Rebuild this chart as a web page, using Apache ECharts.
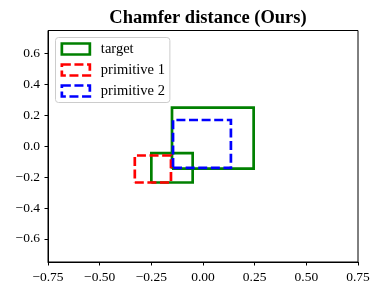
<!DOCTYPE html>
<html><head><meta charset="utf-8">
<script src="https://cdn.jsdelivr.net/npm/echarts@6/dist/echarts.min.js"></script>
<style>html,body{margin:0;padding:0;background:#fff}#c{width:380px;height:295px}</style>
</head><body><div id="c"></div>
<script>
// Boxes as [x0, x1, y0, y1]
const targetBoxes = [[-0.15, 0.245, -0.145, 0.25], [-0.25, -0.05, -0.235, -0.045]];
const primitive1 = [-0.33, -0.155, -0.235, -0.06];
const primitive2 = [-0.145, 0.135, -0.14, 0.17];
const xTicks = [-0.75, -0.5, -0.25, 0, 0.25, 0.5, 0.75];
const yTicks = [-0.6, -0.4, -0.2, 0, 0.2, 0.4, 0.6];

function rect(b){ return [[b[0],b[2]],[b[1],b[2]],[b[1],b[3]],[b[0],b[3]],[b[0],b[2]]]; }
const fmt = (v, d) => { const s = Math.abs(v).toFixed(d); return (v < -1e-9 ? '\u2212' : '') + s; };
const font = 'Liberation Serif';
const dash = [9, 3.6];
const lw = 2.7;
function boxSeries(name, box, color, dashed){
  return { name, type: 'line', data: rect(box), symbol: 'none', silent: true, animation: false,
    lineStyle: { color, width: lw, type: dashed ? dash : 'solid', join: 'miter', cap: 'butt' },
    itemStyle: { color } };
}
const series = [
  boxSeries('target', targetBoxes[0], '#008000', false),
  boxSeries('target', targetBoxes[1], '#008000', false),
  boxSeries('primitive 1', primitive1, '#ff0000', true),
  boxSeries('primitive 2', primitive2, '#0000ff', true)
];
const chart = echarts.init(document.getElementById('c'), null, { renderer: 'canvas' });
chart.setOption({
  animation: false,
  title: { text: 'Chamfer distance (Ours)', left: 203, textAlign: 'center', top: 4,
    textStyle: { fontFamily: font, fontWeight: 'bold', fontSize: 18.5, color: '#000' } },
  grid: { left: 48, right: 22, top: 30.5, bottom: 33, show: true, borderColor: '#000', borderWidth: 1 },
  legend: {
    left: 55.5, top: 37.5, orient: 'vertical', itemWidth: 28, itemHeight: 11, itemGap: 6,
    padding: [4, 5, 4, 5], borderColor: '#ccc', borderWidth: 1, borderRadius: 3,
    backgroundColor: 'rgba(255,255,255,0.8)', icon: 'rect',
    textStyle: { fontFamily: font, fontSize: 14.5, lineHeight: 15, color: '#000', padding: [0, 0, 0, 6] },
    data: [
      { name: 'target', itemStyle: { color: 'rgba(0,0,0,0)', borderColor: '#008000', borderWidth: lw, borderType: 'solid' } },
      { name: 'primitive 1', itemStyle: { color: 'rgba(0,0,0,0)', borderColor: '#ff0000', borderWidth: lw, borderType: dash } },
      { name: 'primitive 2', itemStyle: { color: 'rgba(0,0,0,0)', borderColor: '#0000ff', borderWidth: lw, borderType: dash } }
    ]
  },
  xAxis: { type: 'value', min: -0.75, max: 0.75, interval: 0.25,
    axisLine: { show: true, onZero: false, lineStyle: { color: '#000' } },
    axisTick: { show: true, length: 3.5, lineStyle: { color: '#000' } },
    splitLine: { show: false },
    axisLabel: { fontFamily: font, fontSize: 13.5, color: '#000', margin: 8, formatter: v => fmt(v, 2) } },
  yAxis: { type: 'value', min: -0.75, max: 0.75,
    axisLine: { show: true, onZero: false, lineStyle: { color: '#000' } },
    axisTick: { show: true, length: 3.5, lineStyle: { color: '#000' }, customValues: yTicks },
    splitLine: { show: false },
    axisLabel: { fontFamily: font, fontSize: 13.5, color: '#000', margin: 8, customValues: yTicks, formatter: v => fmt(v, 1) } },
  series
});
</script></body></html>
